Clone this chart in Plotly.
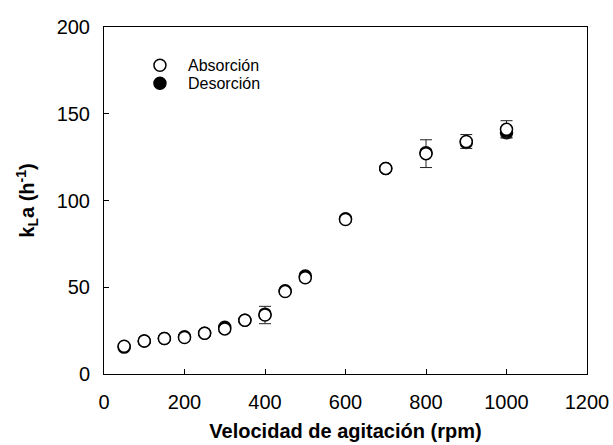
import plotly.graph_objects as go

# Agitation speed (rpm) and volumetric mass-transfer coefficient kLa (1/h)
rpm = [50, 100, 150, 200, 250, 300, 350, 400, 450, 500, 600, 700, 800, 900, 1000]
kla_absorcion = [16, 19, 20.5, 21, 23.5, 26, 31, 34, 47.5, 55.5, 89, 118.5, 127, 134, 141]
err_absorcion = [1, 1, 1, 1, 1, 1.5, 1.5, 5, 1.5, 2, 1.5, 1.5, 8, 4, 5]
kla_desorcion = [15.5, 19, 20.5, 21.5, 23.5, 27, 31, 34.5, 48, 56.5, 89.5, 118.5, 127.5, 133.5, 139]
err_desorcion = [1, 1, 1, 1, 1, 1, 1, 1.5, 1, 1.5, 1.5, 1.5, 2, 2, 2.5]

x_ticks = [0, 200, 400, 600, 800, 1000, 1200]
y_ticks = [0, 50, 100, 150, 200]

# Legend entries: label, fill colour, anchor position (data units)
legend_labels = ["Absorción", "Desorción"]
legend_fills = ["white", "black"]
legend_x = 139
legend_y = [178, 167.6]

FONT = "Liberation Sans, Arial, sans-serif"
MARKER_SIZE = 12

fig = go.Figure()

# Desorption drawn first (filled), absorption on top (open)
fig.add_trace(go.Scatter(
    x=rpm, y=kla_desorcion, mode="markers", name="Desorción",
    marker=dict(symbol="circle", size=MARKER_SIZE, color="black",
                line=dict(color="black", width=1.5)),
    error_y=dict(type="data", array=err_desorcion, color="#222222",
                 thickness=1, width=6),
    showlegend=False,
))
fig.add_trace(go.Scatter(
    x=rpm, y=kla_absorcion, mode="markers", name="Absorción",
    marker=dict(symbol="circle", size=MARKER_SIZE, color="white",
                line=dict(color="black", width=1.5)),
    error_y=dict(type="data", array=err_absorcion, color="#222222",
                 thickness=1, width=6),
    showlegend=False,
))

# Compact legend: circle symbol + label
for label, fill, ly in zip(legend_labels, legend_fills, legend_y):
    fig.add_shape(
        type="circle", xref="x", yref="y",
        xsizemode="pixel", ysizemode="pixel",
        xanchor=legend_x, yanchor=ly,
        x0=-6, x1=6, y0=-6, y1=6,
        fillcolor=fill, line=dict(color="black", width=1.5),
    )
    fig.add_annotation(
        x=legend_x, y=ly, xref="x", yref="y",
        text=label, showarrow=False, xanchor="left", yanchor="middle",
        xshift=26, font=dict(family=FONT, size=16, color="black"),
    )

axis_common = dict(
    showline=True, linecolor="black", linewidth=1, mirror=True,
    ticks="inside", ticklen=5, tickcolor="black", tickwidth=1,
    showgrid=False, zeroline=False, automargin=False,
    tickfont=dict(family=FONT, size=20, color="black"),
)

fig.update_layout(
    width=613, height=445,
    margin=dict(l=104, r=26, t=27, b=71),
    plot_bgcolor="white", paper_bgcolor="white",
    font=dict(family=FONT, color="black"),
    xaxis=dict(
        range=[0, 1200], tickvals=x_ticks, ticklabelstandoff=10,
        title=dict(text="<b>Velocidad de agitación (rpm)</b>",
                   font=dict(family=FONT, size=20), standoff=11),
        **axis_common,
    ),
    yaxis=dict(
        range=[0, 200], tickvals=y_ticks, ticklabelstandoff=9,
        title=dict(text="<b>k<sub>L</sub>a (h<sup>-1</sup>)</b>",
                   font=dict(family=FONT, size=20), standoff=16),
        **axis_common,
    ),
    showlegend=False,
)

fig.write_html("out.html")
